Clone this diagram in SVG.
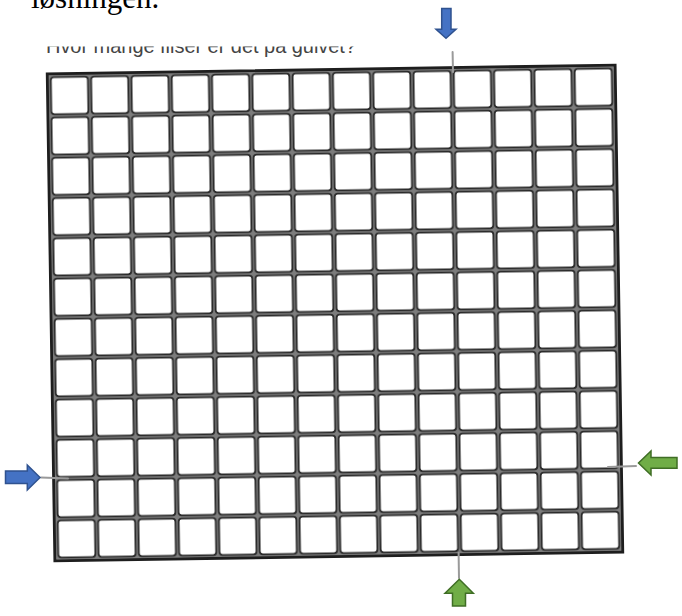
<svg xmlns="http://www.w3.org/2000/svg" width="682" height="616" viewBox="0 0 682 616">
  <style>
    .title { font-family: "Liberation Serif", "Times New Roman", serif; font-size: 31px; fill: #000; }
    .scan { font-family: "Liberation Sans", Arial, sans-serif; font-size: 20px; fill: #444444; }
    .frame { fill: #7c7c7c; stroke: #1e1e1e; stroke-width: 2.8; }
    .cell { fill: #ffffff; stroke: #2a2a2a; stroke-width: 1.8; }
    .guide { stroke: #9a9a9a; stroke-width: 2; fill: none; stroke-linecap: round; }
    .blue { fill: #4472c4; stroke: #2f528f; stroke-width: 1.5; stroke-linejoin: miter; }
    .green { fill: #70ad47; stroke: #3f6e25; stroke-width: 1.5; stroke-linejoin: miter; }
  </style>
  <defs>
    <pattern id="tiles" patternUnits="userSpaceOnUse" x="52.9" y="71.2" width="40.3" height="40.3">
      <rect x="0" y="0" width="40.3" height="40.3" fill="#7c7c7c"/>
      <rect class="cell" x="1.6" y="1.6" width="37.1" height="37.1" rx="3"/>
    </pattern>
    <clipPath id="cut">
      <rect x="0" y="46.5" width="682" height="12"/>
    </clipPath>
  </defs>
  <rect width="682" height="616" fill="#ffffff"/>

  <g id="heading">
    <text class="title" x="31" y="8">løsningen.</text>
  </g>
  <g id="scanned-question" clip-path="url(#cut)">
    <text class="scan" x="46" y="52.5" textLength="310" lengthAdjust="spacing">Hvor mange fliser er det på gulvet?</text>
  </g>

  <g id="grid" transform="rotate(-0.9 335 313)">
    <rect class="frame" x="51" y="69.5" width="568" height="487"/>
    <rect x="52.9" y="71.2" width="564.2" height="483.6" fill="url(#tiles)"/>
  </g>

  <g id="connectors">
    <line class="guide" x1="452.6" y1="52" x2="453" y2="72"/>
    <line class="guide" x1="458.6" y1="553" x2="459" y2="578"/>
    <line class="guide" x1="41" y1="477.5" x2="68" y2="478.5"/>
    <line class="guide" x1="608" y1="467" x2="636" y2="466"/>
  </g>

  <g id="arrow-top">
    <polygon class="blue" points="441.7,8.5 451,8.5 451,29.3 456,29.3 446,38.3 436,29.3 441.7,29.3"/>
  </g>
  <g id="arrow-left">
    <polygon class="blue" points="5.5,471 27.3,471 27.3,465 40,477.5 27.3,490 27.3,483.5 5.5,483.5"/>
  </g>
  <g id="arrow-right">
    <polygon class="green" points="677,457.5 651,457.5 651,451 638.5,463 651,475 651,468.3 677,468.3"/>
  </g>
  <g id="arrow-bottom">
    <polygon class="green" points="452.5,606 452.5,593.3 445,593.3 459.3,579.3 473.3,593.3 465.5,593.3 465.5,606"/>
  </g>
</svg>
